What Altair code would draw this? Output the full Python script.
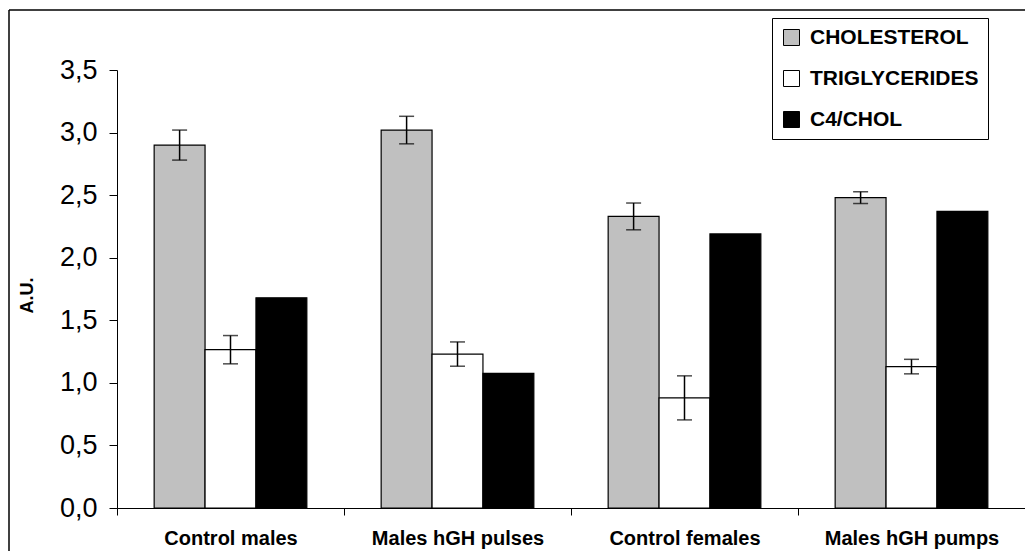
import altair as alt
import pandas as pd

groups = ["Control males", "Males hGH pulses", "Control females", "Males hGH pumps"]
series = ["CHOLESTEROL", "TRIGLYCERIDES", "C4/CHOL"]
colors = ["#C0C0C0", "#FFFFFF", "#000000"]

chol = [2.90, 3.02, 2.33, 2.48]
chol_err = [0.12, 0.11, 0.107, 0.047]
tri = [1.265, 1.23, 0.88, 1.13]
tri_err = [0.113, 0.097, 0.176, 0.058]
c4 = [1.68, 1.075, 2.19, 2.37]

rows = []
for i, g in enumerate(groups):
    rows.append({"group": g, "series": series[0], "value": chol[i]})
    rows.append({"group": g, "series": series[1], "value": tri[i]})
    rows.append({"group": g, "series": series[2], "value": c4[i]})
df = pd.DataFrame(rows)

err_rows = []
for i, g in enumerate(groups):
    err_rows.append({"group": g, "series": series[0], "lo": chol[i] - chol_err[i], "hi": chol[i] + chol_err[i]})
    err_rows.append({"group": g, "series": series[1], "lo": tri[i] - tri_err[i], "hi": tri[i] + tri_err[i]})
edf = pd.DataFrame(err_rows)

FONT = "Liberation Sans"

x_enc = alt.X(
    "group:N",
    sort=groups,
    scale=alt.Scale(paddingInner=0, paddingOuter=0),
    axis=alt.Axis(
        title=None, tickBand="extent", labelAngle=0, labelFontSize=20,
        labelFontWeight="bold", labelFont=FONT, labelColor="black",
        labelPadding=13, tickSize=7, tickColor="black", domainColor="black",
        domainWidth=1, tickWidth=1, grid=False,
    ),
)
xo_enc = alt.XOffset(
    "series:N", sort=series,
    scale=alt.Scale(domain=series, paddingInner=0, paddingOuter=0.73),
)

bars = alt.Chart(df).mark_bar(stroke="black", strokeWidth=1.2).encode(
    x=x_enc,
    xOffset=xo_enc,
    y=alt.Y(
        "value:Q",
        scale=alt.Scale(domain=[0, 3.5], nice=False),
        axis=alt.Axis(
            title="A.U.", values=[0, 0.5, 1.0, 1.5, 2.0, 2.5, 3.0, 3.5],
            labelExpr="replace(format(datum.value, '.1f'), '.', ',')",
            labelFontSize=27, labelFont=FONT, labelColor="black", labelPadding=12,
            tickSize=8, tickColor="black", domainColor="black", grid=False,
            titleFontSize=18, titleFontWeight="bold", titleFont=FONT, titleColor="black",
            titleX=-81, titleY=225, titleAngle=270, titleBaseline="bottom", titleAlign="center",
        ),
    ),
    color=alt.Color(
        "series:N",
        sort=series,
        scale=alt.Scale(domain=series, range=colors),
        legend=alt.Legend(
            title=None, orient="none", legendX=655, legendY=-52,
            strokeColor="black", fillColor="white", padding=9,
            symbolType="square", symbolSize=256, symbolStrokeColor="black",
            symbolStrokeWidth=1, labelFontSize=21, labelFont=FONT, labelLimit=400,
            labelFontWeight="bold", labelColor="black", rowPadding=19, labelOffset=8,
        ),
    ),
)

rules = alt.Chart(edf).mark_rule(color="black", strokeWidth=1.5).encode(
    x=alt.X("group:N", sort=groups),
    xOffset=alt.XOffset("series:N", sort=series),
    y="lo:Q",
    y2="hi:Q",
)
cap_lo = alt.Chart(edf).mark_tick(color="black", thickness=1.5, size=15).encode(
    x=alt.X("group:N", sort=groups),
    xOffset=alt.XOffset("series:N", sort=series),
    y="lo:Q",
)
cap_hi = alt.Chart(edf).mark_tick(color="black", thickness=1.5, size=15).encode(
    x=alt.X("group:N", sort=groups),
    xOffset=alt.XOffset("series:N", sort=series),
    y="hi:Q",
)

one = pd.DataFrame({"a": [0]})
frame_left = alt.Chart(one).mark_rule(color="black", strokeWidth=1.5).encode(
    x=alt.value(-108), y=alt.value(-60), y2=alt.value(600)
)
frame_top = alt.Chart(one).mark_rule(color="black", strokeWidth=1.5).encode(
    x=alt.value(-108), x2=alt.value(1000), y=alt.value(-60)
)

chart = alt.layer(frame_left, frame_top, bars, rules, cap_lo, cap_hi).properties(
    width=908, height=438,
    background="white",
    autosize=alt.AutoSizeParams(type="none"),
    padding={"left": 109, "top": 62, "right": 0, "bottom": 43},
).configure_view(stroke="transparent", strokeWidth=0).configure_axis(grid=False)

chart.save("out.html", embed_options={"renderer": "svg", "actions": False})
